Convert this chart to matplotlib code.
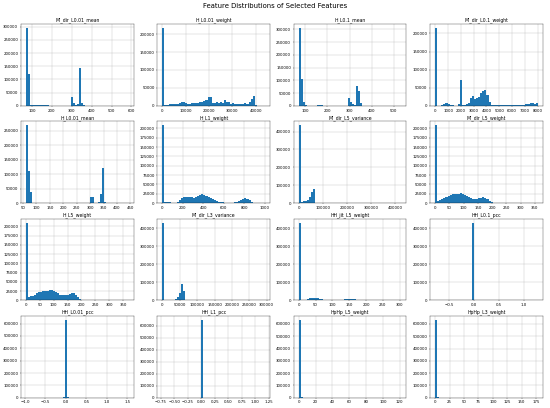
import numpy as np
import matplotlib.pyplot as plt

# histogram data: 50 bins between each feature's min and max,
# counts given as {bin index: count}, bins not listed are empty
features = ["MI_dir_L0.01_mean", "H_L0.01_weight", "H_L0.1_mean", "MI_dir_L0.1_weight",
            "H_L0.01_mean", "H_L1_weight", "MI_dir_L5_variance", "MI_dir_L5_weight",
            "H_L5_weight", "MI_dir_L3_variance", "HH_jit_L5_weight", "HH_L0.1_pcc",
            "HH_L0.01_pcc", "HH_L1_pcc", "HpHp_L5_weight", "HpHp_L3_weight"]

x_min = [70, 0, 70, 0, 61.6, 0, 0, 0, 0, 0, 0, -0.78, -0.975, -0.72, 0, 0]
x_max = [585, 44000, 535, 8000, 443, 1000, 425000, 360, 370, 295000, 305, 1.28, 1.525, 1.18, 122, 178]

mi_dir_l001_mean = {0: 295000, 1: 120000, 2: 4000, 3: 2000, 4: 1500, 5: 1500, 6: 1500, 7: 2000,
                    8: 2500, 9: 2500, 10: 1500, 11: 500, 21: 1000, 22: 32000, 23: 10000,
                    24: 3000, 25: 8000, 26: 145000, 27: 12000, 28: 2000, 29: 500, 49: 50}
h_l001_weight = {0: 217000, 1: 1000, 2: 3000, 3: 4000, 4: 4500, 5: 5000, 6: 5500, 7: 6000,
                 8: 8000, 9: 12000, 10: 11000, 11: 7000, 12: 6000, 13: 6500, 14: 7000,
                 15: 7500, 16: 8000, 17: 9000, 18: 10000, 19: 11000, 20: 13000, 21: 16000,
                 22: 25000, 23: 25000, 24: 8000, 25: 9000, 26: 11000, 27: 9000, 28: 10000,
                 29: 9000, 30: 15000, 31: 11000, 32: 12000, 33: 6000, 34: 8000, 35: 4000,
                 36: 5000, 37: 6000, 38: 5000, 39: 4000, 40: 9000, 41: 5000, 42: 10000,
                 43: 18000, 44: 28000, 45: 2000, 46: 500, 47: 300, 48: 200, 49: 100}
h_l01_mean = {0: 305000, 1: 107000, 2: 15000, 3: 2000, 4: 800, 5: 600, 9: 1500, 10: 3000,
              11: 1500, 23: 1000, 24: 30000, 25: 16000, 26: 6000, 27: 3000, 28: 78000,
              29: 58000, 30: 10000, 31: 1000, 49: 50}
mi_dir_l01_weight = {0: 215000, 3: 2000, 4: 5000, 5: 7000, 6: 6000, 7: 3000, 8: 1000,
                     11: 4000, 12: 70000, 13: 3000, 14: 2000, 15: 5000, 16: 7000, 17: 22000,
                     18: 28000, 19: 20000, 20: 22000, 21: 25000, 22: 35000, 23: 40000,
                     24: 45000, 25: 30000, 26: 10000, 27: 3000, 28: 1500, 29: 1000, 30: 1000,
                     31: 1000, 32: 1000, 33: 1000, 34: 1000, 35: 1000, 36: 1500, 37: 1500,
                     38: 2000, 39: 2000, 40: 2000, 41: 2500, 42: 2500, 43: 3000, 44: 4000,
                     45: 5000, 46: 7000, 47: 8000, 48: 6000, 49: 8000}
h_l001_mean = {0: 268000, 1: 110000, 2: 37000, 3: 2000, 4: 1500, 5: 1500, 6: 1500, 7: 1500,
               8: 1500, 9: 1500, 10: 1500, 11: 1500, 31: 20000, 32: 22000, 35: 5000,
               36: 32000, 37: 120000, 38: 5000, 39: 500, 49: 50}
h_l1_weight = {0: 208000, 1: 3000, 2: 3000, 3: 2000, 7: 3000, 8: 8000, 9: 14000, 10: 16000,
               11: 17000, 12: 17000, 13: 16500, 14: 16000, 15: 15000, 16: 17000, 17: 20000,
               18: 23000, 19: 24000, 20: 22000, 21: 19000, 22: 16000, 23: 13000, 24: 10000,
               25: 8000, 26: 6000, 27: 4000, 28: 3000, 29: 2000, 30: 1500, 31: 1000,
               32: 1000, 33: 1000, 34: 1500, 35: 2500, 36: 3500, 37: 6000, 38: 9000,
               39: 12000, 40: 14000, 41: 12000, 42: 8000, 43: 4000, 44: 1500, 45: 500, 49: 50}
mi_dir_l5_variance = {0: 435000, 1: 8000, 2: 10000, 3: 13000, 4: 20000, 5: 35000, 6: 65000,
                      7: 78000, 49: 20}
mi_dir_l5_weight = {0: 208000, 1: 6000, 2: 9000, 3: 11000, 4: 14000, 5: 17000, 6: 20000,
                    7: 22000, 8: 24000, 9: 25000, 10: 25000, 11: 25500, 12: 26000, 13: 25000,
                    14: 23000, 15: 20000, 16: 17000, 17: 14000, 18: 12000, 19: 11000,
                    20: 11500, 21: 13000, 22: 15000, 23: 17000, 24: 15000, 25: 11000,
                    26: 6000, 27: 3000, 28: 1500, 29: 800, 30: 400, 31: 200, 32: 200,
                    33: 200, 34: 200, 35: 200, 49: 20}
h_l5_weight = {0: 210000, 1: 9000, 2: 11000, 3: 13000, 4: 16000, 5: 19000, 6: 22000,
               7: 24000, 8: 25000, 9: 26000, 10: 26500, 11: 27000, 12: 27000, 13: 26000,
               14: 23000, 15: 19000, 16: 16000, 17: 14000, 18: 13500, 19: 14000, 20: 16000,
               21: 18000, 22: 20000, 23: 19000, 24: 15000, 25: 9000, 26: 4000, 27: 2000,
               28: 1000, 29: 500, 30: 200, 31: 200, 32: 200, 33: 200, 49: 20}
mi_dir_l3_variance = {0: 432000, 1: 1000, 2: 1000, 3: 1000, 4: 2000, 5: 4000, 6: 8000,
                      7: 18000, 8: 40000, 9: 92000, 10: 55000, 49: 20}
hh_jit_l5_weight = {0: 430000, 1: 1000, 2: 2000, 3: 4000, 4: 8000, 5: 12000, 6: 15000,
                    7: 16000, 8: 15000, 9: 12000, 10: 8000, 11: 6000, 12: 4500, 13: 3500,
                    14: 3000, 15: 2500, 16: 2500, 17: 2500, 18: 3000, 19: 3500, 20: 4000,
                    21: 5000, 22: 6000, 23: 7000, 24: 8000, 25: 9000, 26: 8500, 27: 6500,
                    28: 4000, 29: 2000, 30: 1000, 31: 500, 49: 20}
hh_l01_pcc = {0: 20, 17: 1500, 18: 432000, 19: 1000, 49: 20}
hh_l001_pcc = {0: 20, 18: 8000, 19: 630000, 20: 3000, 49: 20}
hh_l1_pcc = {0: 20, 18: 1000, 19: 648000, 20: 1000, 49: 20}
hphp_l5_weight = {0: 631000, 1: 5000, 2: 1000, 49: 20}
hphp_l3_weight = {0: 632000, 1: 3000, 2: 800, 49: 20}

bin_counts = [mi_dir_l001_mean, h_l001_weight, h_l01_mean, mi_dir_l01_weight,
              h_l001_mean, h_l1_weight, mi_dir_l5_variance, mi_dir_l5_weight,
              h_l5_weight, mi_dir_l3_variance, hh_jit_l5_weight, hh_l01_pcc,
              hh_l001_pcc, hh_l1_pcc, hphp_l5_weight, hphp_l3_weight]

N_BINS = 50

fig, axes = plt.subplots(4, 4, figsize=(20, 408 / 27.5), dpi=27.5)
fig.subplots_adjust(left=0.038, right=0.987, bottom=0.025, top=0.941,
                    wspace=0.21, hspace=0.19)

for ax, name, lo, hi, cnt in zip(axes.flat, features, x_min, x_max, bin_counts):
    edges = np.linspace(lo, hi, N_BINS + 1)
    weights = np.zeros(N_BINS)
    for b, c in cnt.items():
        weights[b] = c
    ax.hist(edges[:-1], bins=edges, weights=weights, color="#1f77b4")
    ax.set_title(name)
    ax.grid(True)
    ax.set_axisbelow(True)

fig.suptitle("Feature Distributions of Selected Features", fontsize=18, y=0.993)

fig.savefig("out.png", dpi=27.5)
